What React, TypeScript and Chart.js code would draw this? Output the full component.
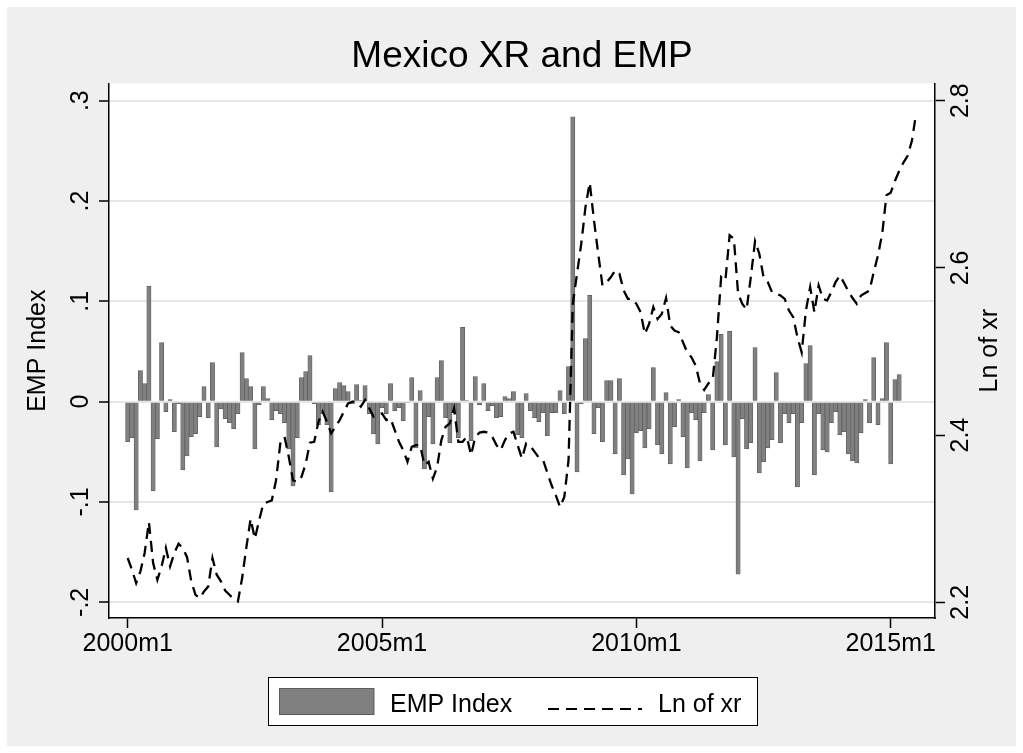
import { useEffect, useRef } from 'react';
import { Chart, registerables } from 'chart.js';

Chart.register(...registerables);

// Monthly series, month index 0 = 2000m1
const empIndex: number[] = [
  -0.040, -0.036, -0.108, 0.031, 0.018, 0.115, -0.089, -0.037, 0.059, -0.010, 0.002, -0.030,
  -0.002, -0.068, -0.054, -0.035, -0.032, -0.015, 0.015, -0.016, 0.039, -0.045, -0.007, -0.017,
  -0.021, -0.027, -0.012, 0.049, 0.023, 0.015, -0.047, -0.003, 0.015, 0.003, -0.018, -0.009,
  -0.012, -0.021, -0.047, -0.084, -0.036, 0.024, 0.030, 0.046, -0.002, -0.023, -0.012, -0.023,
  -0.090, 0.013, 0.019, 0.016, 0.010, -0.002, 0.017, 0.001, 0.016, -0.012, -0.032, -0.042,
  -0.006, -0.012, 0.018, -0.009, -0.006, -0.019, -0.001, 0.024, -0.046, 0.011, -0.067, -0.015,
  -0.042, 0.024, 0.041, -0.016, -0.041, -0.011, -0.036, 0.074, 0.001, -0.039, 0.025, -0.003,
  0.018, -0.009, -0.004, -0.016, -0.015, 0.005, 0.003, 0.010, -0.033, -0.036, 0.008, -0.009,
  -0.016, -0.020, -0.011, -0.034, -0.011, -0.011, 0.011, -0.012, 0.035, 0.284, -0.070, -0.002,
  0.063, 0.106, -0.032, -0.006, -0.040, 0.021, 0.021, -0.052, 0.023, -0.073, -0.057, -0.092,
  -0.031, -0.029, -0.046, -0.027, 0.034, -0.043, -0.052, 0.009, -0.062, -0.025, 0.002, -0.035,
  -0.066, -0.011, -0.018, -0.059, -0.011, 0.007, -0.048, 0.040, 0.067, -0.043, 0.070, -0.055,
  -0.172, -0.017, -0.047, -0.041, 0.054, -0.071, -0.060, -0.046, -0.038, 0.029, -0.041, -0.012,
  -0.021, -0.012, -0.085, -0.021, 0.038, 0.056, -0.073, -0.012, -0.048, -0.050, -0.021, -0.010,
  -0.033, -0.030, -0.052, -0.059, -0.061, -0.031, 0.002, -0.021, 0.044, -0.023, 0.003, 0.059,
  -0.062, 0.022, 0.027,
];

const lnXr: number[] = [
  2.253, 2.239, 2.223, 2.237, 2.259, 2.296, 2.247, 2.227, 2.243, 2.265, 2.243, 2.259,
  2.270, 2.265, 2.254, 2.225, 2.209, 2.205, 2.213, 2.219, 2.253, 2.233, 2.225, 2.214,
  2.209, 2.204, 2.201, 2.229, 2.266, 2.300, 2.276, 2.298, 2.318, 2.320, 2.322, 2.346,
  2.390, 2.398, 2.374, 2.346, 2.344, 2.350, 2.366, 2.391, 2.392, 2.416, 2.428, 2.416,
  2.402, 2.410, 2.418, 2.428, 2.438, 2.440, 2.440, 2.434, 2.442, 2.432, 2.422, 2.424,
  2.426, 2.418, 2.420, 2.406, 2.392, 2.382, 2.368, 2.386, 2.388, 2.388, 2.364, 2.368,
  2.348, 2.362, 2.394, 2.410, 2.414, 2.432, 2.392, 2.392, 2.398, 2.376, 2.398, 2.403,
  2.404, 2.403, 2.398, 2.388, 2.382, 2.394, 2.402, 2.404, 2.388, 2.372, 2.390, 2.387,
  2.380, 2.373, 2.370, 2.355, 2.340, 2.328, 2.314, 2.326, 2.370, 2.557, 2.593, 2.629,
  2.673, 2.702, 2.657, 2.617, 2.579, 2.583, 2.589, 2.597, 2.593, 2.573, 2.563, 2.563,
  2.557, 2.547, 2.521, 2.533, 2.553, 2.539, 2.545, 2.564, 2.531, 2.525, 2.523, 2.511,
  2.499, 2.493, 2.483, 2.462, 2.454, 2.462, 2.466, 2.517, 2.589, 2.585, 2.639, 2.635,
  2.569, 2.557, 2.550, 2.589, 2.632, 2.617, 2.589, 2.583, 2.571, 2.569, 2.567, 2.563,
  2.549, 2.541, 2.517, 2.499, 2.549, 2.577, 2.547, 2.579, 2.563, 2.561, 2.571, 2.583,
  2.591, 2.582, 2.572, 2.564, 2.557, 2.567, 2.570, 2.573, 2.595, 2.615, 2.641, 2.687,
  2.690, 2.704, 2.716, 2.726, 2.734, 2.752, 2.785,
];

const xTickMonths: number[] = [0, 60, 120, 180];
const xTickLabels: string[] = ['2000m1', '2005m1', '2010m1', '2015m1'];
const empTicks: number[] = [-0.2, -0.1, 0, 0.1, 0.2, 0.3];
const empTickLabels: string[] = ['-.2', '-.1', '0', '.1', '.2', '.3'];
const xrTicks: number[] = [2.2, 2.4, 2.6, 2.8];
const xrTickLabels: string[] = ['2.2', '2.4', '2.6', '2.8'];

const TITLE = 'Mexico XR and EMP';
const EMP_LABEL = 'EMP Index';
const XR_LABEL = 'Ln of xr';

const FONT = "'Liberation Sans', Arial, Helvetica, sans-serif";
const BAR_FILL = '#808080';
const BAR_EDGE = '#5c5c5c';
const DASH = [11, 7];

export default function App() {
  const ref = useRef<HTMLCanvasElement | null>(null);

  useEffect(() => {
    document.body.style.margin = '0';
    document.body.style.background = '#ffffff';
    const canvas = ref.current;
    if (!canvas) return;

    const decor = {
      id: 'stataDecor',
      beforeDraw(chart: any) {
        const { ctx, chartArea: a, width, height } = chart;
        ctx.save();
        ctx.fillStyle = '#ffffff';
        ctx.fillRect(0, 0, width, height);
        ctx.fillStyle = '#efefef';
        ctx.fillRect(7, 7, width - 14, height - 14);
        ctx.fillStyle = '#ffffff';
        ctx.fillRect(a.left, a.top, a.right - a.left, a.bottom - a.top);
        ctx.restore();
      },
      afterDraw(chart: any) {
        const { ctx, chartArea: a } = chart;
        const yL = chart.scales.y;
        const yR = chart.scales.y1;
        const rot = (text: string, x: number, y: number, size: number) => {
          ctx.save();
          ctx.translate(x, y);
          ctx.rotate(-Math.PI / 2);
          ctx.font = `${size}px ${FONT}`;
          ctx.fillStyle = '#000';
          ctx.textAlign = 'center';
          ctx.textBaseline = 'alphabetic';
          ctx.fillText(text, 0, 0);
          ctx.restore();
        };
        empTicks.forEach((v, i) => rot(empTickLabels[i], a.left - 21, yL.getPixelForValue(v), 25));
        xrTicks.forEach((v, i) => rot(xrTickLabels[i], a.right + 33, yR.getPixelForValue(v), 25));
        const midY = (a.top + a.bottom) / 2;
        rot(EMP_LABEL, 45, midY, 25);
        rot(XR_LABEL, a.right + 62, midY, 25);

        // legend
        ctx.save();
        ctx.fillStyle = '#ffffff';
        ctx.fillRect(268.5, 677.5, 489, 48);
        ctx.strokeStyle = '#000';
        ctx.lineWidth = 1;
        ctx.strokeRect(268.5, 677.5, 489, 48);
        ctx.fillStyle = BAR_FILL;
        ctx.fillRect(279.5, 688.5, 94.5, 26);
        ctx.strokeStyle = BAR_EDGE;
        ctx.strokeRect(279.5, 688.5, 94.5, 26);
        ctx.font = `25px ${FONT}`;
        ctx.fillStyle = '#000';
        ctx.textAlign = 'left';
        ctx.textBaseline = 'alphabetic';
        ctx.fillText(EMP_LABEL, 390, 711.5);
        ctx.fillText(XR_LABEL, 658, 711.5);
        ctx.strokeStyle = '#000';
        ctx.lineWidth = 2.2;
        ctx.setLineDash(DASH);
        ctx.beginPath();
        ctx.moveTo(548, 709);
        ctx.lineTo(642, 709);
        ctx.stroke();
        ctx.restore();
      },
    };

    const chart = new Chart(canvas, {
      type: 'bar',
      data: {
        datasets: [
          {
            type: 'line',
            label: XR_LABEL,
            data: lnXr.map((v, i) => ({ x: i, y: v })),
            yAxisID: 'y1',
            borderColor: '#000',
            borderWidth: 2.3,
            borderDash: DASH,
            pointRadius: 0,
            fill: false,
            tension: 0,
            order: 0,
          } as any,
          {
            type: 'bar',
            label: EMP_LABEL,
            data: empIndex.map((v, i) => ({ x: i, y: v })),
            yAxisID: 'y',
            backgroundColor: BAR_FILL,
            borderColor: BAR_EDGE,
            borderWidth: 0.75,
            barPercentage: 1,
            categoryPercentage: 1,
            order: 1,
          } as any,
        ],
      },
      options: {
        animation: false,
        responsive: false,
        events: [],
        layout: { padding: 0 },
        plugins: {
          legend: { display: false },
          tooltip: { enabled: false },
          title: {
            display: true,
            text: TITLE,
            fullSize: false,
            color: '#000',
            font: { family: FONT, size: 37, weight: 'normal' },
            padding: { top: 35, bottom: 4 },
          },
        },
        scales: {
          x: {
            type: 'linear',
            min: -4.41,
            max: 190.45,
            offset: false,
            afterBuildTicks: (s: any) => {
              s.ticks = xTickMonths.map((v) => ({ value: v }));
            },
            afterFit: (s: any) => {
              s.height = 135;
            },
            ticks: {
              autoSkip: false,
              maxRotation: 0,
              minRotation: 0,
              padding: 1,
              color: '#000',
              font: { family: FONT, size: 25 },
              callback: (_v: any, i: number) => xTickLabels[i],
            },
            grid: {
              offset: false,
              drawOnChartArea: false,
              drawTicks: true,
              tickLength: 10,
              tickColor: '#000',
              tickWidth: 1.5,
            },
            border: { display: true, color: '#000', width: 1.5 },
          },
          y: {
            type: 'linear',
            position: 'left',
            min: -0.21564,
            max: 0.31723,
            afterBuildTicks: (s: any) => {
              s.ticks = empTicks.map((v) => ({ value: v }));
            },
            afterFit: (s: any) => {
              s.width = 109;
            },
            ticks: { display: false },
            grid: {
              color: '#e6e6e6',
              lineWidth: 2,
              drawTicks: true,
              tickLength: 10,
              tickColor: '#000',
              tickWidth: 1.5,
            },
            border: { display: true, color: '#000', width: 1.5 },
          },
          y1: {
            type: 'linear',
            position: 'right',
            min: 2.18124,
            max: 2.82068,
            afterBuildTicks: (s: any) => {
              s.ticks = xrTicks.map((v) => ({ value: v }));
            },
            afterFit: (s: any) => {
              s.width = 88;
            },
            ticks: { display: false },
            grid: {
              drawOnChartArea: false,
              drawTicks: true,
              tickLength: 10,
              tickColor: '#000',
              tickWidth: 1.5,
            },
            border: { display: true, color: '#000', width: 1.5 },
          },
        },
      },
      plugins: [decor],
    });

    return () => chart.destroy();
  }, []);

  return <canvas ref={ref} width={1023} height={753} style={{ display: 'block' }} />;
}
